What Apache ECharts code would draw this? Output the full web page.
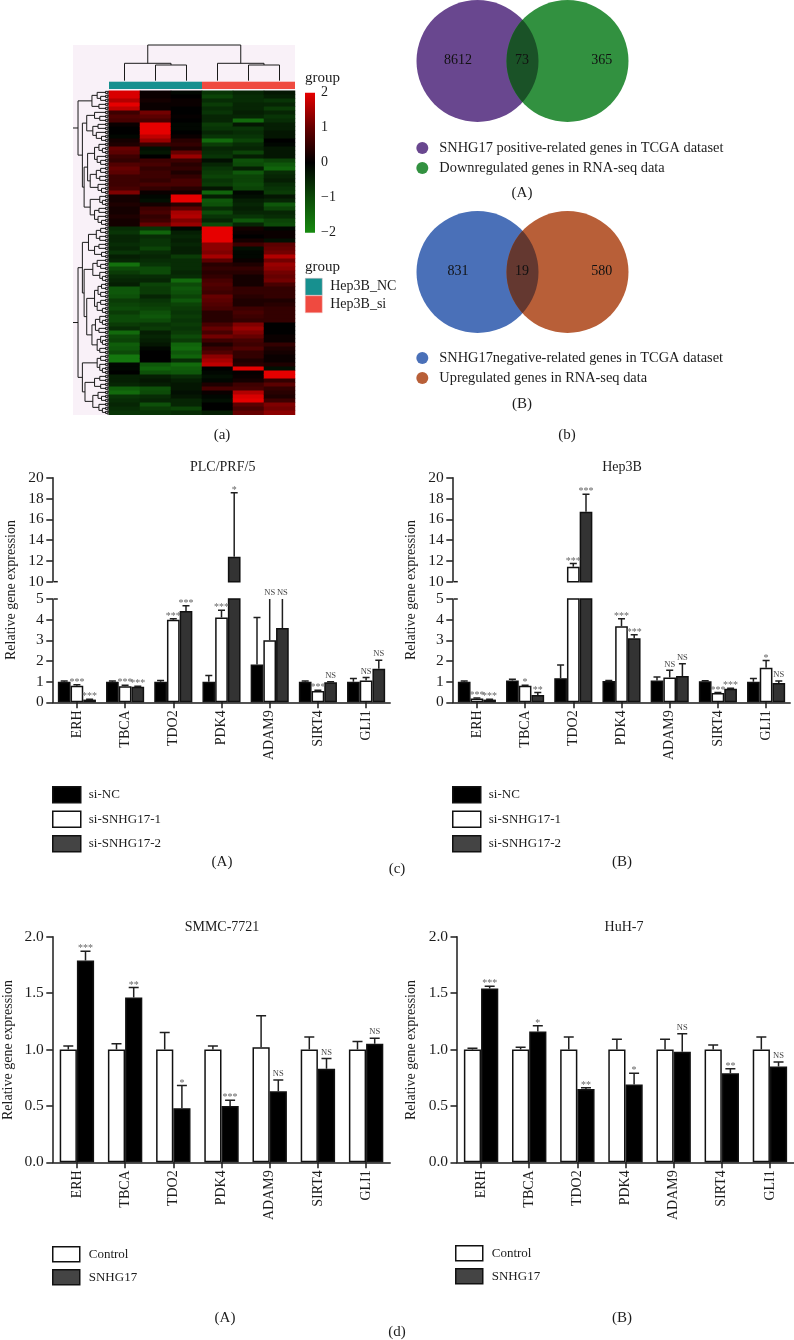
<!DOCTYPE html>
<html><head><meta charset="utf-8">
<script src="https://cdn.jsdelivr.net/npm/echarts@6/dist/echarts.min.js"></script>
<style>html,body{margin:0;padding:0;background:#fff}#c{width:794px;height:1340px}</style>
</head><body><div id="c"></div>
<script>
// ---------- DATA ----------
const genes = ['ERH','TBCA','TDO2','PDK4','ADAM9','SIRT4','GLI1'];
// panel c, PLC/PRF/5
const plcNC    = [1.0,1.0,1.0,1.0,1.83,1.0,1.0];
const plcNCErr = [.03,.03,.05,.3,2.27,.03,.15];
const plcS1    = [.8,.78,4.0,4.1,3.0,.55,1.05];
const plcS1Err = [.05,.05,.05,.35,5.5,.03,.15];
const plcS2    = [.13,.75,4.42,12.4,3.6,.97,1.62];
const plcS2Err = [.02,.03,.25,6.15,5,.03,.42];
const plcSig1  = ['***','***','***','***','NS','***','NS'];
const plcSig2  = ['***','***','***','*','NS','NS','NS'];
// panel c, Hep3B
const hepNC    = [1.0,1.05,1.17,1.03,1.05,1.02,1.0];
const hepNCErr = [.03,.07,.63,.02,.17,.02,.15];
const hepS1    = [.18,.8,11.44,3.68,1.2,.45,1.67];
const hepS1Err = [.03,.02,.32,.37,.35,.03,.35];
const hepS2    = [.13,.35,16.73,3.1,1.27,.65,.93];
const hepS2Err = [.02,.12,1.67,.17,.6,.03,.1];
const hepSig1  = ['***','*','***','***','NS','***','*'];
const hepSig2  = ['***','**','***','***','NS','***','NS'];
// panel d, SMMC-7721
const smmcCtl    = [1.0,1.0,1.0,1.0,1.02,1.0,1.0];
const smmcCtlErr = [.03,.05,.15,.03,.28,.11,.07];
const smmcSn     = [1.79,1.46,.48,.5,.63,.83,1.05];
const smmcSnErr  = [.08,.09,.2,.05,.1,.09,.05];
const smmcSig    = ['***','**','*','***','NS','NS','NS'];
// panel d, HuH-7
const huhCtl    = [1.0,1.0,1.0,1.0,1.0,1.0,1.0];
const huhCtlErr = [.01,.02,.11,.09,.09,.04,.11];
const huhSn     = [1.54,1.16,.65,.69,.98,.79,.85];
const huhSnErr  = [.02,.05,.01,.1,.16,.04,.04];
const huhSig    = ['***','*','**','*','NS','**','NS'];
// panel b
const vennCountsA = [8612,73,365];
const vennCountsB = [831,19,580];
// panel a, heat map columns (row 0 at the top)
const heatNC1 = [1.9,1.9,1.6,2,1.7,.6,.8,.7,.1,0, 0,-.1,.2,.3,1,.9,.6,.5,.8,1, .9,.6,.6,.6,.7,1.2,.2,.2,.3,.2, .2,.3,.2,.2,-.6,-.7,-.5,-.5,-.6,-.5, -.7,-.4,-.5,-1.6,-1,-.8,-.6,-.5,-.4,-1.2, -1.2,-1.1,-.8,-.9,-1,-.8,-1,-1,-.8,-.6, -1.5,-1,-.9,-1.3,-1.2,-1,-1.7,-1.7,-.1,-.1, 0,-.4,-.4,-.5,-1.3,-1.5,-.7,-.6,-.5,-.6,-.7];
const heatNC2 = [.1,.1,.2,.1,.1,1.1,.9,.7,2,2, 2,1.7,1.4,.6,-.2,-.3,0,.6,.7,.5, .6,.6,.5,.7,.5,.1,-.1,-.2,.2,.6, .7,.5,.6,1,-.7,-1.4,-.6,-.7,-.7,-.9, -.6,-.5,-.6,-.7,-1,-1,-.6,-.5,-.9,-.8, -.8,-.5,-.7,-.8,-.9,-1.1,-1.2,-1,-.7,-.8, -.4,-.5,-.4,-.3,-.1,0,0,0,-1.2,-1.4, -1.1,-.4,-.3,-.4,-1.1,-1,-.6,-.5,-1.1,-.8,-.7];
const heatNC3 = [-.1,0,.1,.1,0,0,.05,0,-.1,-.1, 0,.1,.4,.5,.3,1,1.4,.6,.4,.5, .3,.5,.7,.7,.4,.2,2,2,.4,.9, 1.5,1.6,1.2,1.4,-.1,-.4,-.5,-.4,-.5,-.4, -.4,-.8,-.6,-.6,-.6,-.5,-.6,-1.5,-1,-1.2, -1.1,-.9,-1.2,-.9,-.8,-.7,-.8,-.7,-.8,-.7, -.8,-1,-.8,-1.4,-1.5,-1.2,-1.4,-.6,-1.5,-1.3, -1.2,-.6,-.4,-.3,-.3,-.2,-.3,-.5,-.5,-.9,-.6];
const heatSi1 = [-.7,-.9,-.6,-.8,-.6,-.7,-.5,-.5,-.8,-.7, -.5,-.7,-1.5,-.8,-.5,-.6,-.7,-.2,-.5,-.7, -.8,-.9,-.7,-.8,-.3,-1.4,-.4,-1.2,-1.1,-.6, -1,-.7,-.5,-1,2,2,2,2,1.3,1.3, 1.2,1.5,.9,.4,.5,.4,.5,.7,.8,.7, .6,1,.9,.8,.7,.4,.4,.4,.7,1, .7,1.1,.6,.3,.6,.8,1.3,1.5,1.7,0, -.1,-.2,-.1,.3,.7,.1,-.1,-.2,0,0,-.4];
const heatSi2 = [-.5,-.6,-.6,-.5,-.5,-.4,-.5,-1.5,-.3,-.7, -.6,-.7,-.9,-.6,-.5,-.9,-.4,-1.1,-1,-.4, -1.2,-.9,-.9,-1,-.9,-.1,-.2,-.4,-.5,-.4, -.5,-.7,-1.2,-.5,.2,.1,0,.2,.6,-.2, -.1,-.1,.1,.3,.5,.4,.2,.2,.2,.5, .5,.4,.3,.3,.6,.7,.6,.5,1.2,1.4, 1.2,1,.7,.6,.8,.5,.5,.3,.4,2, .05,.1,.2,.6,.7,1.6,1.9,2,.9,.7,1];
const heatSi3 = [-.3,-.4,-.7,-.5,-.8,-.5,-.7,-.6,-.4,-.4, -.3,-.3,0,-.1,-.3,-.3,-.3,-.9,-1.2,-1.4, -.6,-.5,-.4,-.6,-.7,-.8,-.3,-.5,-1.2,-.9, -.5,-.6,-.9,-1,-.1,.1,.1,-.2,.9,1, 1.1,1.6,1.1,1.4,1.3,1.1,1,1.1,.7,.5, .5,.5,.3,.4,.5,.5,.5,.5,0,0, 0,.1,.1,.5,.3,.2,.1,.1,.3,-.2, 2,2,.5,.9,.5,.4,.3,.6,1.2,1.1,1.3];
const heatColumns = [heatNC1,heatNC2,heatNC3,heatSi1,heatSi2,heatSi3];
// dendrograms: [merge height, child, child]; 0 is a leaf
const colTreeNC = [17.4,0,[15.7,0,0]];
const colTreeSi = [17.4,0,[15.7,0,0]];
const rowLeafFork = [3.5,0,[1.8,0,0]];
const rowTreeA = [31,
  [15,[9,0,[5,0,0]],[7,0,0]],
  [26,
    [21,[12,0,[6,0,0]],[14,[8,0,0],[10,0,[4,0,0]]]],
    [24,
      [20,[12,[7,0,[3,0,0]],[9,0,[5,0,0]]],[17,[10,[5,0,0],[6,0,0]],[8,0,[4,0,0]]]],
      [17,[6,0,[3,0,0]],[12,[7,0,0],[8,0,[4,0,0]]]]
    ]
  ]];
const rowTreeB = [31,
  [26,
    [19,[10,[5,0,0],[6,0,0]],[12,[7,0,0],[4,0,0]]],
    [24,
      [14,[9,0,[5,0,0]],[6,0,[3,0,0]]],
      [21,[12,[8,[4,0,0],[5,0,0]],[9,[5,0,0],[3,0,0]]],
          [15,[11,[6,0,[3,0,0]],[7,0,0]],[9,[5,0,[3,0,0]],[6,0,0]]]]
    ]
  ],
  [26,
    [9,[5,0,0],[6,0,[3,0,0]]],
    [23,[12,[6,0,0],[5,0,0]],[14,[8,0,[4,0,0]],[7,0,[3,0,0]]]]
  ]];
const heatStops = ['#178a10','#0c4a08','#000000','#650000','#e60000'];
// ---------- LAYOUT ----------
const FONT = '"Liberation Serif","DejaVu Serif",serif';
const INK = '#1c1c1c';
const grid=[],xAxis=[],yAxis=[],series=[],legend=[],graphic=[],title=[];
function addAxes(g,x,y){grid.push(g);const i=grid.length-1;xAxis.push(Object.assign({gridIndex:i},x));yAxis.push(Object.assign({gridIndex:i},y));return i;}
function txt(text,x,y,size,o){graphic.push(Object.assign({type:'text',x:x,y:y,silent:true,rotation:(o&&o.rot)||0,style:{text:text,font:size+'px '+FONT,fill:INK,textAlign:(o&&o.align)||'center',textVerticalAlign:'middle'}}));}
const axisLine={show:true,lineStyle:{color:INK,width:1.5}};

// ---------- PANEL a ----------
addAxes({left:73,top:45,width:222,height:370,show:true,backgroundColor:'#f9f1f8',borderWidth:0},{type:'value',show:false,min:0,max:1},{type:'value',show:false,min:0,max:1});

function flatten(node,state,out){ // returns [pos,height]
  if(node===0){const p=state.n+.5;state.n++;return [p,0];}
  const a=flatten(node[1],state,out),b=flatten(node[2],state,out);
  out.push([a[0],a[1],b[0],b[1],node[0]]);
  return [(a[0]+b[0])/2,node[0]];
}
function flattenRows(node,state,out){ // every row of the heat map ends in a small fork of three leaves
  if(node===0){
    const base=state.n,st={n:0},seg=[];const r=flatten(rowLeafFork,st,seg);
    seg.forEach(s=>out.push([base+s[0]/3,s[1],base+s[2]/3,s[3],s[4]]));
    state.n++;return [base+r[0]/3,r[1]];
  }
  const a=flattenRows(node[1],state,out),b=flattenRows(node[2],state,out);
  const h=4+node[0]*.87;
  out.push([a[0],a[1],b[0],b[1],h]);
  return [(a[0]+b[0])/2,h];
}
function segRender(horizontalLeaves,lw){return function(params,api){
  const p=(l,h)=>horizontalLeaves?api.coord([l,h]):api.coord([h,l]);
  const v=[0,1,2,3,4].map(i=>api.value(i));
  return {type:'polyline',shape:{points:[p(v[0],v[1]),p(v[0],v[4]),p(v[2],v[4]),p(v[2],v[3])]},style:{fill:null,stroke:'#1a1a1a',lineWidth:lw}};
};}
// column dendrogram
const colI=addAxes({left:109,top:45,width:186,height:35.7},{type:'value',show:false,min:0,max:6},{type:'value',show:false,min:0,max:35.7});
{const st={n:0},seg=[];const a=flatten(colTreeNC,st,seg),b=flatten(colTreeSi,st,seg);seg.push([a[0],a[1],b[0],b[1],35.7]);
series.push({type:'custom',xAxisIndex:colI,yAxisIndex:colI,silent:true,data:seg,renderItem:segRender(true,1)});}
// row dendrogram
const rowI=addAxes({left:73,top:90.7,width:36,height:324},{type:'value',show:false,min:0,max:36,inverse:true},{type:'value',show:false,min:0,max:81,inverse:true});
{const st={n:0},seg=[];const a=flattenRows(rowTreeA,st,seg),b=flattenRows(rowTreeB,st,seg);
 seg.push([a[0],a[1],a[0],36,36],[b[0],b[1],b[0],36,36]);
 series.push({type:'custom',xAxisIndex:rowI,yAxisIndex:rowI,silent:true,data:seg,renderItem:segRender(false,1)});}
// group bar
const grpI=addAxes({left:109,top:81.7,width:186,height:7.3},{type:'category',show:false,data:[0,1,2,3,4,5]},{type:'value',show:false,min:0,max:1});
const groupBar=(name,vals,color)=>series.push({type:'bar',name:name,xAxisIndex:grpI,yAxisIndex:grpI,data:vals,barWidth:'100%',barGap:'-100%',itemStyle:{color:color},silent:true});
groupBar('Hep3B_NC',[1,1,1,'-','-','-'],'#17908f');
groupBar('Hep3B_si',['-','-','-',1,1,1],'#ef4a40');
legend.push({left:305,top:278,padding:0,orient:'vertical',itemWidth:17,itemHeight:17,itemGap:0,selectedMode:false,icon:'rect',
  data:[{name:'Hep3B_NC',itemStyle:{borderColor:'#d8bcc4',borderWidth:.5}},{name:'Hep3B_si',itemStyle:{borderColor:'#f4c4c0',borderWidth:.5}}],
  textStyle:{fontFamily:FONT,fontSize:14,color:INK,padding:[0,0,0,3]}});
// heat map
const rows=heatNC1.map((_,i)=>i), cols=[0,1,2,3,4,5];
const heatI=addAxes({left:109,top:90.7,width:186,height:324},{type:'category',show:false,data:cols},{type:'category',show:false,data:rows,inverse:true});
const heatData=[];heatColumns.forEach((col,c)=>col.forEach((v,r)=>heatData.push([c,r,v])));
const heatSeries=series.length;
series.push({type:'heatmap',xAxisIndex:heatI,yAxisIndex:heatI,data:heatData,silent:true,itemStyle:{borderWidth:0},emphasis:{disabled:true},progressive:0});
// colour bar
const barI=addAxes({left:305,top:92.7,width:10,height:140},{type:'value',show:false,min:0,max:1},
 {type:'value',position:'right',min:-2,max:2,interval:1,axisLine:{show:false},axisTick:{show:false},splitLine:{show:false},
  axisLabel:{margin:6,fontFamily:FONT,fontSize:14,color:INK,formatter:v=>String(v).replace('-','\u2212')}});
series.push({type:'custom',xAxisIndex:barI,yAxisIndex:barI,silent:true,data:[[0,-2,1,2]],encode:{x:[0,2],y:[1,3]},renderItem:(p,api)=>{
  const a=api.coord([api.value(0),api.value(3)]),b=api.coord([api.value(2),api.value(1)]);
  return {type:'rect',shape:{x:a[0],y:a[1],width:b[0]-a[0],height:b[1]-a[1]},
    style:{fill:new echarts.graphic.LinearGradient(0,1,0,0,heatStops.map((c,i)=>({offset:i/(heatStops.length-1),color:c})))}};
}});
txt('group',305,78,15,{align:'left'});
txt('group',305,267,15,{align:'left'});
txt('(a)',222,435,15);

// ---------- PANEL b ----------
function venn(top,names,colors,counts){
  const i=addAxes({left:400,top:top,width:240,height:130},{type:'value',show:false,min:0,max:240},{type:'value',show:false,min:0,max:130,inverse:true});
  const cxA=77.5,cxB=167.5,cy=61,r=61,labelX=[58,122,201.7];
  const circle=(cx,color,name)=>series.push({type:'custom',name:name,xAxisIndex:i,yAxisIndex:i,silent:true,itemStyle:{color:color},data:[[cx,cy]],
    renderItem:(p,api)=>{const c=api.coord([cx,cy]);return {type:'circle',shape:{cx:c[0],cy:c[1],r:r},style:{fill:color}};}});
  circle(cxA,colors[0],names[0]);circle(cxB,colors[1],names[1]);
  series.push({type:'custom',xAxisIndex:i,yAxisIndex:i,silent:true,z:3,data:[[0,0]],renderItem:(p,api)=>{
    const mid=(cxA+cxB)/2,half=Math.sqrt(r*r-(cxB-mid)*(cxB-mid));
    const a=api.coord([mid,cy-half]),b=api.coord([mid,cy+half]);
    return {type:'path',shape:{pathData:`M${a[0]} ${a[1]}A${r} ${r} 0 0 1 ${b[0]} ${b[1]}A${r} ${r} 0 0 1 ${a[0]} ${a[1]}Z`},style:{fill:colors[2]}};
  }});
  series.push({type:'custom',xAxisIndex:i,yAxisIndex:i,silent:true,z:4,data:counts.map((c,k)=>[k,c]),renderItem:(p,api)=>{
    const k=api.value(0),c=api.coord([labelX[k],cy-1]);
    return {type:'text',style:{text:String(api.value(1)),x:c[0],y:c[1],font:'14px '+FONT,fill:'#111',textAlign:'center',textVerticalAlign:'middle'}};
  }});
}
const vennA=['SNHG17 positive-related genes in TCGA dataset','Downregulated genes in RNA-seq data'];
const vennB=['SNHG17negative-related genes in TCGA dataset','Upregulated genes in RNA-seq data'];
venn(0,vennA,['#69478f','#329140','#1a5227'],vennCountsA);
venn(211,vennB,['#4a70b8','#b85f38','#643830'],vennCountsB);
const vennLegend=(names,top)=>legend.push({left:416.3,top:top,padding:0,orient:'vertical',icon:'circle',itemWidth:12,itemHeight:12,itemGap:6,selectedMode:false,data:names,
  textStyle:{fontFamily:FONT,fontSize:14.4,color:INK,padding:[0,0,0,6]}});
vennLegend(vennA,141);vennLegend(vennB,351);
txt('(A)',522,193,15);txt('(B)',522,404,15);txt('(b)',567,435,15);

// ---------- BAR PANELS ----------
const labelStyle={fontFamily:FONT,fontSize:14,color:INK};
function yStyle(min,max,interval,fmt){return {type:'value',min:min,max:max,interval:interval,axisLine:axisLine,
  axisTick:{show:true,length:6.5,lineStyle:{color:INK,width:1.5}},splitLine:{show:false},
  axisLabel:Object.assign({margin:9,formatter:fmt},labelStyle,{fontSize:15.5})};}
const xStyle={type:'category',data:genes,axisLine:axisLine,axisTick:{show:true,alignWithLabel:true,length:6,lineStyle:{color:INK,width:1.5}},
  axisLabel:Object.assign({rotate:90,margin:8,interval:0},labelStyle)};
const hiddenCat={type:'category',data:genes,show:false};

function errSeries(axis,n,bw,sets,lo,hi,w){ // sets: [[values,errors],...]
  const data=[];sets.forEach((s,si)=>s[0].forEach((v,c)=>{if(v+s[1][c]>=lo&&v<=hi)data.push([c,si,v,s[1][c]]);}));
  series.push({type:'custom',xAxisIndex:axis,yAxisIndex:axis,silent:true,clip:true,z:3,data:data,encode:{x:0,y:2},renderItem:(p,api)=>{
    const c=api.value(0),si=api.value(1),v=api.value(2),e=api.value(3);
    const a=api.coord([c,v]),b=api.coord([c,v+e]);const x=a[0]+(si-(n-1)/2)*bw;
    const st={stroke:'#1f1f1f',lineWidth:1.5};
    return {type:'group',children:[{type:'line',shape:{x1:x,y1:a[1],x2:x,y2:b[1]},style:st},{type:'line',shape:{x1:x-w,y1:b[1],x2:x+w,y2:b[1]},style:st}]};
  }});
}
function sigSeries(axis,n,bw,items){
  series.push({type:'custom',xAxisIndex:axis,yAxisIndex:axis,silent:true,clip:false,z:5,data:items.map(t=>[t[0],t[1],t[2]]),encode:{x:0,y:2},renderItem:(p,api)=>{
    const t=items[p.dataIndex],a=api.coord([t[0],t[2]]);const x=a[0]+(t[1]-(n-1)/2)*bw;const ns=t[3]==='NS';
    return {type:'text',style:{text:t[3],x:x,y:a[1]-(ns?6:2.5),font:(ns?8.5:10)+'px '+FONT,fill:ns?'#444':'#666',textAlign:'center',textVerticalAlign:'middle'}};
  }});
}
function brokenPanel(left,name,sets,sigs,titleX,legendLeft,legendNames){
  const bw=12.7,w=337.4;
  const up=addAxes({left:left,top:477.7,width:w,height:104},hiddenCat,yStyle(10,20,2));
  const lo=addAxes({left:left,top:599,width:w,height:103.3},xStyle,yStyle(0,5,1));
  const fills=['#000','#fff','#333'];
  sets.forEach((s,i)=>{
    const st={color:fills[i],borderColor:'#111',borderWidth:1.5};
    series.push({type:'bar',name:legendNames[i],xAxisIndex:up,yAxisIndex:up,barWidth:bw,barGap:0,silent:true,itemStyle:st,clip:true,data:s[0].map(v=>v>10?v:'-')});
    series.push({type:'bar',name:legendNames[i],xAxisIndex:lo,yAxisIndex:lo,barWidth:bw,barGap:0,silent:true,itemStyle:st,clip:true,data:s[0]});
  });
  errSeries(up,3,bw,sets,10,20,3.5);errSeries(lo,3,bw,sets,0,5,3.5);
  const upItems=[],loItems=[];
  sigs.forEach((sg,k)=>sg.forEach((t,c)=>{const s=sets[k+1],top=s[0][c]+s[1][c];
    if(top>10)upItems.push([c,k+1,top,t]);else loItems.push([c,k+1,Math.min(top,5),t]);}));
  sigSeries(up,3,bw,upItems);sigSeries(lo,3,bw,loItems);
  title.push({text:name,left:titleX,top:460,padding:0,textAlign:'center',textStyle:{fontFamily:FONT,fontSize:14,fontWeight:'normal',color:INK}});
  txt('Relative gene expression',left-41.5,590,14,{rot:Math.PI/2});
  [581.7,599].forEach(y=>graphic.push({type:'line',silent:true,shape:{x1:left+1,y1:y,x2:left+5,y2:y},style:{stroke:INK,lineWidth:1.5}}));
  legend.push({left:legendLeft,top:786,padding:0,orient:'vertical',icon:'rect',itemWidth:28,itemHeight:16,itemGap:7,selectedMode:false,
    data:legendNames.map((nm,i)=>({name:nm,itemStyle:{color:['#000','#fff','#444'][i],borderColor:'#111',borderWidth:1.5}})),
    textStyle:{fontFamily:FONT,fontSize:13,color:INK,padding:[0,0,0,3]}});
}
const cNames=['si-NC','si-SNHG17-1','si-SNHG17-2'];
brokenPanel(52.8,'PLC/PRF/5',[[plcNC,plcNCErr],[plcS1,plcS1Err],[plcS2,plcS2Err]],[plcSig1,plcSig2],222.7,52,cNames);
brokenPanel(452.8,'Hep3B',[[hepNC,hepNCErr],[hepS1,hepS1Err],[hepS2,hepS2Err]],[hepSig1,hepSig2],622,452,cNames);
txt('(A)',222,862,15);txt('(B)',622,862,15);txt('(c)',397,869,15);

function simplePanel(left,name,sets,sig,titleX,legendLeft,legendTop,textX){
  const bw=17.2,w=337.4,names=['Control','SNHG17'];
  const g=addAxes({left:left,top:936.7,width:w,height:225.6},xStyle,yStyle(0,2,.5,v=>v.toFixed(1)));
  sets.forEach((s,i)=>series.push({type:'bar',name:names[i],xAxisIndex:g,yAxisIndex:g,barWidth:bw,barGap:0,silent:true,
    itemStyle:{color:['#fff','#000'][i],borderColor:'#111',borderWidth:1.5},data:s[0]}));
  errSeries(g,2,bw,sets,0,2,5);
  sigSeries(g,2,bw,sig.map((t,c)=>[c,1,sets[1][0][c]+sets[1][1][c],t]));
  title.push({text:name,left:titleX,top:920,padding:0,textAlign:'center',textStyle:{fontFamily:FONT,fontSize:14,fontWeight:'normal',color:INK}});
  txt('Relative gene expression',textX,1050,14,{rot:Math.PI/2});
  legend.push({left:legendLeft,top:legendTop,padding:0,orient:'vertical',icon:'rect',itemWidth:27,itemHeight:15,itemGap:6.5,selectedMode:false,
    data:[{name:'Control',itemStyle:{color:'#fff',borderColor:'#111',borderWidth:1.5}},{name:'SNHG17',itemStyle:{color:'#444',borderColor:'#111',borderWidth:1.5}}],
    textStyle:{fontFamily:FONT,fontSize:13,color:INK,padding:[0,0,0,4]}});
}
simplePanel(52.8,'SMMC-7721',[[smmcCtl,smmcCtlErr],[smmcSn,smmcSnErr]],smmcSig,222,52,1246,8);
simplePanel(457,'HuH-7',[[huhCtl,huhCtlErr],[huhSn,huhSnErr]],huhSig,624,455,1245,411.7);
txt('(A)',225,1318,15);txt('(B)',622,1318,15);txt('(d)',397,1332,15);

const chart=echarts.init(document.getElementById('c'));
chart.setOption({animation:false,backgroundColor:'#fff',title,grid,xAxis,yAxis,series,legend,graphic,tooltip:{show:false},
  visualMap:[{type:'continuous',show:false,seriesIndex:heatSeries,min:-2,max:2,inRange:{color:heatStops}}]});
</script></body></html>
